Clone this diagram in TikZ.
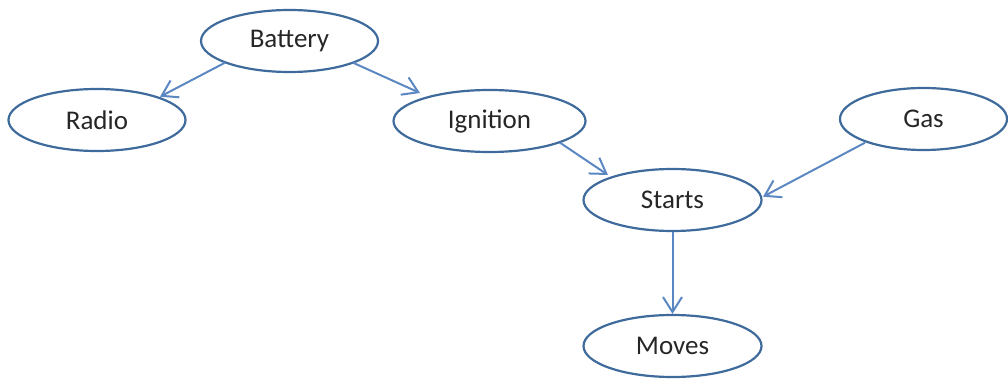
\documentclass[tikz,border=0pt]{standalone}
\usepackage{fontspec}
\setmainfont{Carlito}
\usetikzlibrary{shapes.geometric,arrows.meta,calc}
\definecolor{edgeblue}{HTML}{3F6A9C}
\definecolor{arrowblue}{HTML}{5B87C2}
\begin{document}
\begin{tikzpicture}[x=1pt,y=-1pt,
  var/.style={ellipse,draw=edgeblue,line width=2.2pt,inner sep=0pt,minimum height=62pt,
    font=\fontsize{27}{32}\selectfont,text=black!85},
  link/.style={draw=arrowblue,line width=2pt,-{Straight Barb[length=15pt,width=19pt,line width=2pt]}}]
\useasboundingbox (0,0) rectangle (1008,379);
\node[var,minimum width=177pt] (bat) at (289.5,41) {Battery};
\node[var,minimum width=177pt] (rad) at (97,120) {Radio};
\node[var,minimum width=192pt] (ign) at (489.5,121) {Ignition};
\node[var,minimum width=167pt] (gas) at (923.5,119) {Gas};
\node[var,minimum width=178pt] (sta) at (672.5,200) {Starts};
\node[var,minimum width=178pt] (mov) at (672.5,346) {Moves};
\draw[link] ($(bat.center)+(-64.5,21.7)$) -- ($(rad.center)+(63,-23.3)$);
\draw[link] ($(bat.center)+(63.5,21.7)$) -- ($(ign.center)+(-69.5,-28)$);
\draw[link] ($(ign.center)+(70.5,21.7)$) -- ($(sta.center)+(-64.5,-25)$);
\draw[link] ($(gas.center)+(-58.5,23.7)$) -- ($(sta.center)+(90.5,-3.3)$);
\draw[link] (sta.south) -- (mov.north);
\end{tikzpicture}
\end{document}
